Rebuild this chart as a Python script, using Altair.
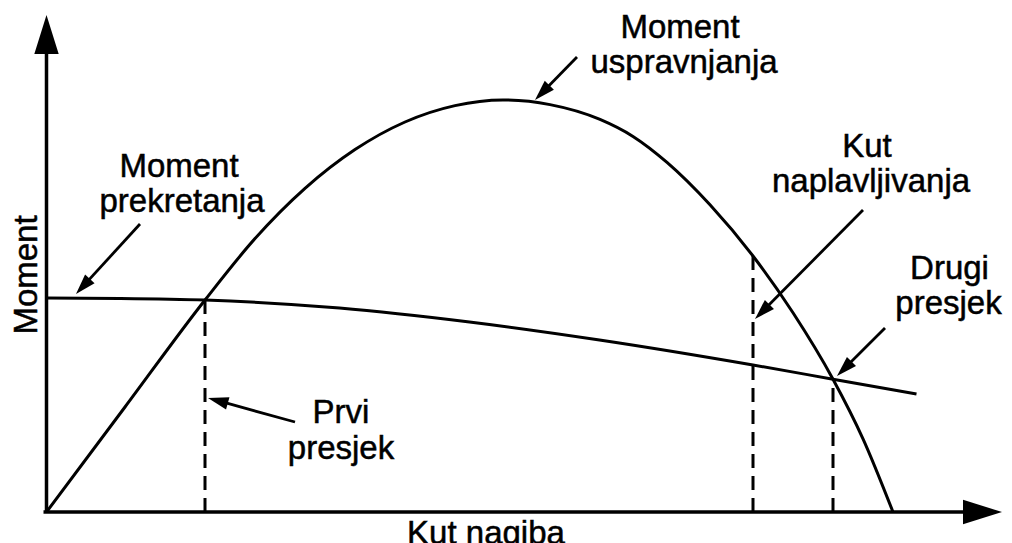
import math
import altair as alt
import pandas as pd

# ---------------- data ----------------
# Righting moment curve  "Moment uspravnjanja": heel angle (deg) vs moment
right_angle = [0, 7.85, 15.85, 20.85, 25.85, 30.85, 35.85, 40.85, 45.65, 50.35,
               55.35, 58.65, 62.05, 66.35, 70.65, 74.65, 78.65, 81.65, 84.65]
right_moment = [0, 26.25, 53.0, 68.35, 80.9, 90.6, 97.5, 101.6, 103.0, 101.85,
                98.15, 93.9, 87.4, 76.8, 64.0, 49.8, 33.2, 18.3, 0]

# Heeling moment curve "Moment prekretanja"
heel_angle = [0, 7.3, 15.85, 29.3, 42.3, 55.3, 70.65, 78.65, 87.0]
heel_moment = [53.5, 53.4, 53.0, 51.0, 47.5, 43.0, 36.75, 33.2, 29.5]

# Dashed verticals: first intersection, flooding angle, second intersection
mark_angle = [15.85, 70.65, 78.65]
mark_top = [53.0, 64.0, 33.2]

# Text labels (one entry per line)
label_text = ["Moment", "uspravnjanja", "Moment", "prekretanja", "Kut",
              "naplavljivanja", "Drugi", "presjek", "Prvi", "presjek",
              "Kut nagiba"]
label_x = [63.35, 63.75, 13.25, 13.55, 82.05, 82.45, 90.3, 90.2, 29.45,
           29.45, 43.95]
label_y = [118.5, 109.75, 83.75, 75.0, 88.75, 80.0, 58.25, 49.5, 22.25,
           13.25, -8.0]

# Annotation arrows: tail -> tip
arrow_x1 = [53.05, 9.35, 24.85, 81.65, 83.85]
arrow_y1 = [113.75, 72.0, 22.5, 75.5, 46.0]
arrow_x2 = [48.85, 2.95, 16.15, 70.85, 79.05]
arrow_y2 = [103.0, 54.5, 28.5, 48.25, 34.0]

# Axes
y_axis_top = 124.25
x_axis_end = 95.55
y_label = "Moment"

# ---------------- layout ----------------
W, H = 996, 527
XMIN, XMAX = -3.85, 95.75
YMAX = 126.0
YMIN = YMAX - 131.75
PXX = W / (XMAX - XMIN)
PXY = H / (YMAX - YMIN)
FONT = "Liberation Sans"
FS = 33

xs = alt.Scale(domain=[XMIN, XMAX], nice=False, zero=False)
ys = alt.Scale(domain=[YMIN, YMAX], nice=False, zero=False)
X = alt.X("x:Q", scale=xs, axis=None)
Y = alt.Y("y:Q", scale=ys, axis=None)

HEAD = "M0,0L1.25,4L-1.25,4Z"  # arrow head pointing up, tip at origin


def screen_angle(dx, dy):
    # dx, dy in data units -> clockwise angle from "up" on screen
    sx = dx * PXX
    sy = -dy * PXY
    a = math.degrees(math.atan2(sx, -sy))
    return a % 360


righting = alt.Chart(pd.DataFrame({"x": right_angle, "y": right_moment})).mark_line(
    color="black", strokeWidth=3, interpolate="monotone"
).encode(x=X, y=Y)

heeling = alt.Chart(pd.DataFrame({"x": heel_angle, "y": heel_moment})).mark_line(
    color="black", strokeWidth=3, interpolate="monotone"
).encode(x=X, y=Y)

dashes = alt.Chart(pd.DataFrame({"x": mark_angle, "y": [0] * 3, "y2": mark_top})).mark_rule(
    color="black", strokeWidth=3, strokeDash=[14, 8]
).encode(x=X, y=Y, y2="y2:Q")

# axes
axes_df = pd.DataFrame({
    "x": [0, -0.3], "y": [0, 0],
    "x2": [0, x_axis_end - 3.5], "y2": [y_axis_top - 9.0, 0],
})
axes = alt.Chart(axes_df).mark_rule(color="black", strokeWidth=3.5).encode(
    x=X, y=Y, x2="x2:Q", y2="y2:Q"
)
axis_heads = alt.Chart(pd.DataFrame({
    "x": [0, x_axis_end], "y": [y_axis_top, 0], "a": [0, 90]
})).mark_point(shape=HEAD, filled=True, size=380, color="black", opacity=1,
               strokeWidth=0).encode(x=X, y=Y, angle=alt.Angle("a:Q", scale=None))

# annotation arrows
rows = []
for x1, y1, x2, y2 in zip(arrow_x1, arrow_y1, arrow_x2, arrow_y2):
    sx, sy = (x2 - x1) * PXX, -(y2 - y1) * PXY
    L = math.hypot(sx, sy)
    back = 14.0 / L
    rows.append({
        "x": x1, "y": y1,
        "x2": x2 - (x2 - x1) * back, "y2": y2 - (y2 - y1) * back,
        "tx": x2, "ty": y2, "a": screen_angle(x2 - x1, y2 - y1),
    })
arr_df = pd.DataFrame(rows)
arrow_lines = alt.Chart(arr_df).mark_rule(color="black", strokeWidth=2.8).encode(
    x=X, y=Y, x2="x2:Q", y2="y2:Q"
)
arrow_heads = alt.Chart(arr_df).mark_point(
    shape=HEAD, filled=True, size=105, color="black", opacity=1, strokeWidth=0
).encode(x=alt.X("tx:Q", scale=xs, axis=None), y=alt.Y("ty:Q", scale=ys, axis=None),
         angle=alt.Angle("a:Q", scale=None))

labels = alt.Chart(pd.DataFrame({"x": label_x, "y": label_y, "t": label_text})).mark_text(
    font=FONT, fontSize=FS, color="black", align="center", baseline="alphabetic",
    stroke="black", strokeWidth=0.5
).encode(x=X, y=Y, text="t:N")

ylab = alt.Chart(pd.DataFrame({"x": [-1.0], "y": [59.25], "t": [y_label]})).mark_text(
    font=FONT, fontSize=FS, color="black", align="center", baseline="alphabetic", angle=270,
    stroke="black", strokeWidth=0.5
).encode(x=X, y=Y, text="t:N")

chart = alt.layer(
    righting, heeling, dashes, axes, axis_heads, arrow_lines, arrow_heads, labels, ylab
).properties(
    width=W, height=H,
    padding={"left": 0, "top": 0, "right": 0, "bottom": 12},
    autosize=alt.AutoSizeParams(type="none"),
    background="white",
).configure_view(stroke=None)

chart.save("out.html", embed_options={"renderer": "svg", "actions": False})
